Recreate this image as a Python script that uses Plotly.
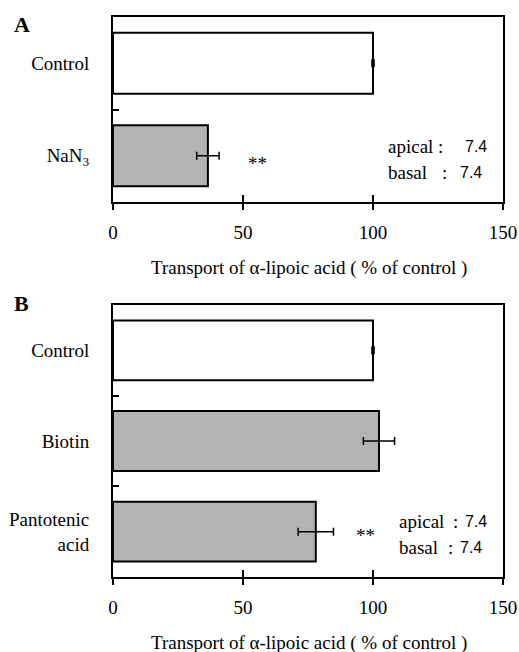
import plotly.graph_objects as go

# ---- data ----
cats_a = ["Control", "NaN<sub>3</sub>"]
vals_a = [100, 36.5]
errs_a = [0.4, 4.3]
fills_a = ["#ffffff", "#b3b3b3"]

cats_b = ["Control", "Biotin", "Pantotenic<br>acid"]
vals_b = [100, 102.3, 78.0]
errs_b = [0.4, 6.0, 6.8]
fills_b = ["#ffffff", "#b3b3b3", "#b3b3b3"]

x_ticks = [0, 50, 100, 150]
x_title = "Transport of α-lipoic acid ( % of control )"

FONT = "Liberation Serif, Times New Roman, Tinos, DejaVu Serif, serif"
SANS = "Liberation Sans, Arial, sans-serif"
W, H = 519, 652
FS = 19

fig = go.Figure()

def add_bars(cats, vals, errs, fills, xa, ya):
    fig.add_trace(go.Bar(
        x=vals, y=cats, orientation="h", width=0.66,
        marker=dict(color=fills, line=dict(color="black", width=2)),
        error_x=dict(type="data", array=errs, visible=True,
                     color="black", thickness=1.5, width=4),
        xaxis=xa, yaxis=ya, showlegend=False, hoverinfo="x+y",
    ))

add_bars(cats_a, vals_a, errs_a, fills_a, "x", "y")
add_bars(cats_b, vals_b, errs_b, fills_b, "x2", "y2")

xdom = [113 / W, 503 / W]
ydom_a = [1 - 202 / H, 1 - 17 / H]
ydom_b = [1 - 577 / H, 1 - 305 / H]

xcommon = dict(range=[0, 150], tickvals=x_ticks, ticks="outside", ticklen=6,
               tickwidth=2, tickcolor="black", showline=True, linewidth=2,
               linecolor="black", mirror=True, showgrid=False, zeroline=False,
               tickfont=dict(family=FONT, size=FS, color="black"),
               ticklabelstandoff=6, domain=xdom, fixedrange=True,
               automargin=False)
ycommon = dict(type="category", autorange="reversed", tickson="boundaries",
               ticks="inside", ticklen=6, tickwidth=2, tickcolor="black",
               showline=True, linewidth=2, linecolor="black", mirror=True,
               showgrid=False, zeroline=False,
               tickfont=dict(family=FONT, size=FS, color="black"),
               ticklabelstandoff=18, fixedrange=True, automargin=False)

fig.update_layout(
    template="none",
    width=W, height=H, autosize=False,
    margin=dict(l=0, r=0, t=0, b=0, pad=0),
    paper_bgcolor="white", plot_bgcolor="white",
    font=dict(family=FONT, color="black"),
    xaxis=dict(**xcommon, anchor="y"),
    yaxis=dict(**ycommon, domain=ydom_a, anchor="x",
               categoryorder="array", categoryarray=cats_a),
    xaxis2=dict(**xcommon, anchor="y2"),
    yaxis2=dict(**ycommon, domain=ydom_b, anchor="x2",
                categoryorder="array", categoryarray=cats_b),
    # inward halves of the crossing x ticks
    xaxis3=dict(range=[0, 150], tickvals=x_ticks, ticks="inside", ticklen=7,
                tickwidth=2, tickcolor="black", showticklabels=False,
                showline=False, showgrid=False, zeroline=False,
                overlaying="x", anchor="y", domain=xdom, fixedrange=True,
                automargin=False),
    xaxis4=dict(range=[0, 150], tickvals=x_ticks, ticks="inside", ticklen=7,
                tickwidth=2, tickcolor="black", showticklabels=False,
                showline=False, showgrid=False, zeroline=False,
                overlaying="x2", anchor="y2", domain=xdom, fixedrange=True,
                automargin=False),
)

# invisible traces that activate the overlay tick axes
fig.add_trace(go.Scatter(x=[None], y=[None], xaxis="x3", yaxis="y",
                         showlegend=False, hoverinfo="skip"))
fig.add_trace(go.Scatter(x=[None], y=[None], xaxis="x4", yaxis="y2",
                         showlegend=False, hoverinfo="skip"))

def txt(x, y, s, size=FS, anchor="left", bold=False, family=FONT):
    fig.add_annotation(x=x / W, y=1 - y / H, xref="paper", yref="paper",
                       text=("<b>%s</b>" % s) if bold else s, showarrow=False,
                       xanchor=anchor, yanchor="middle",
                       font=dict(family=family, size=size, color="black"))

# axis titles
txt(309, 268, x_title, anchor="center")
txt(309, 643, x_title, anchor="center")

# panel letters
txt(12, 24, "A", size=22, bold=True)
txt(12, 303, "B", size=22, bold=True)

# significance marks
txt(257, 163, "**", anchor="center")
txt(365, 535, "**", anchor="center")

# pH annotations, panel A
txt(386, 146, "apical")
txt(440, 146, ":", anchor="center")
txt(489, 146, "7.4", anchor="right", family=SANS, size=16)
txt(386, 172, "basal")
txt(444, 172, ":", anchor="center")
txt(484, 172, "7.4", anchor="right", family=SANS, size=16)

# pH annotations, panel B
txt(397, 521, "apical")
txt(455, 521, ":", anchor="center")
txt(489, 521, "7.4", anchor="right", family=SANS, size=16)
txt(397, 547, "basal")
txt(450, 547, ":", anchor="center")
txt(484, 547, "7.4", anchor="right", family=SANS, size=16)

fig.write_html("out.html", config={"displayModeBar": False})
